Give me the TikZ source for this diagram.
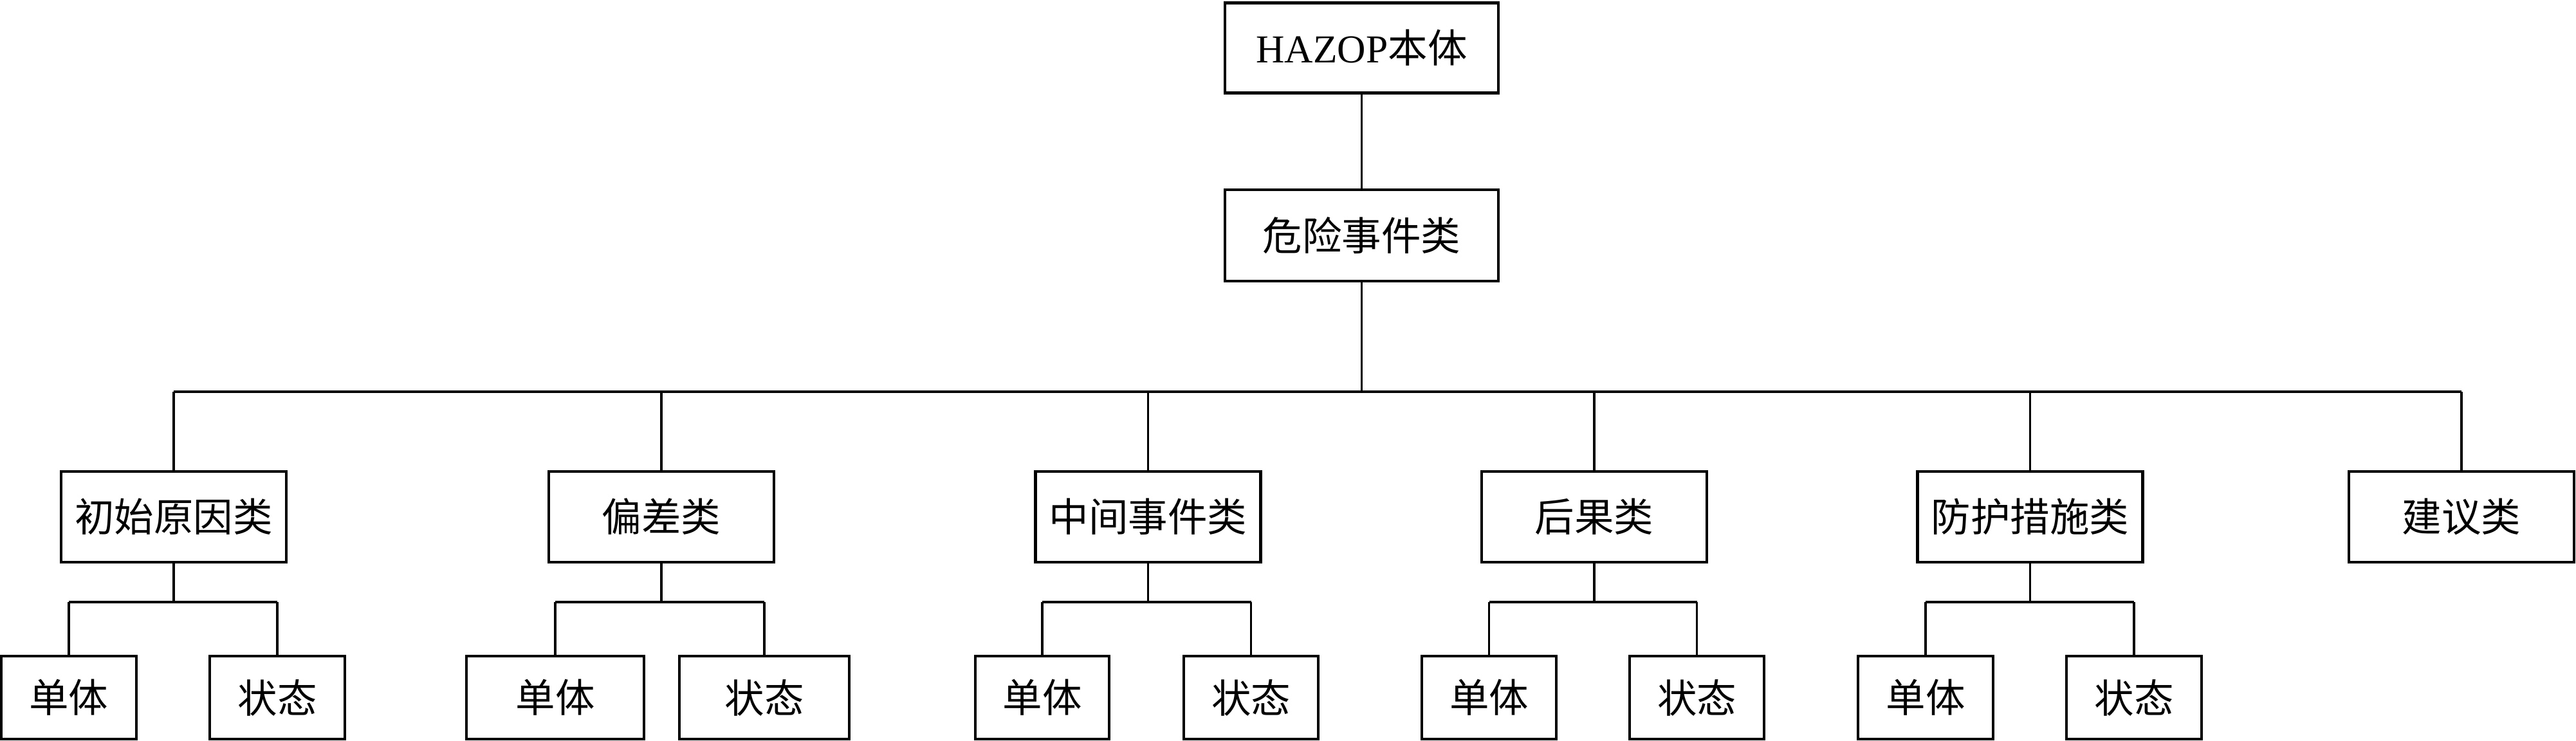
\documentclass[tikz,border=0pt]{standalone}
\usepackage{fontspec}
\setmainfont{Liberation Serif}
\newfontfamily\cjk{Noto Sans CJK SC}
\begin{document}
\begin{tikzpicture}[
  box/.style={draw=black, line width=1.2pt, fill=white, inner sep=0pt, align=center,
              font=\fontsize{17.5}{21}\selectfont\cjk},
  top/.style={box, minimum width=4.25cm, minimum height=1.40cm},
  cls/.style={box, minimum width=3.50cm, minimum height=1.41cm},
  leaf/.style={box, minimum height=1.29cm},
  conn/.style={draw=black, line width=1.0pt},
  hbus/.style={draw=black, line width=1.3pt}
]
\useasboundingbox (0,0) rectangle (40.04,-11.52);

% top two levels
\node[top] (root) at (21.165,-0.745) {{\rmfamily HAZOP}本体};
\node[top, minimum height=1.42cm] (ev) at (21.165,-3.66) {危险事件类};

% class row
\node[cls] (c1) at (2.70,-8.035) {初始原因类};
\node[cls] (c2) at (10.28,-8.035) {偏差类};
\node[cls] (c3) at (17.845,-8.035) {中间事件类};
\node[cls] (c4) at (24.78,-8.035) {后果类};
\node[cls] (c5) at (31.555,-8.035) {防护措施类};
\node[cls] (c6) at (38.26,-8.035) {建议类};

% leaves
\node[leaf, minimum width=2.10cm] (u1) at (1.07,-10.845) {单体};
\node[leaf, minimum width=2.10cm] (s1) at (4.31,-10.845) {状态};
\node[leaf, minimum width=2.76cm] (u2) at (8.63,-10.845) {单体};
\node[leaf, minimum width=2.64cm] (s2) at (11.88,-10.845) {状态};
\node[leaf, minimum width=2.08cm] (u3) at (16.20,-10.845) {单体};
\node[leaf, minimum width=2.09cm] (s3) at (19.445,-10.845) {状态};
\node[leaf, minimum width=2.09cm] (u4) at (23.145,-10.845) {单体};
\node[leaf, minimum width=2.09cm] (s4) at (26.375,-10.845) {状态};
\node[leaf, minimum width=2.10cm] (u5) at (29.93,-10.845) {单体};
\node[leaf, minimum width=2.10cm] (s5) at (33.17,-10.845) {状态};

% connectors
\coordinate (bus) at (0,-6.09);
\coordinate (sb) at (0,-9.36);
\draw[conn] (root) -- (ev);
\draw[conn] (ev.south) -- (ev.south |- bus);
\draw[hbus] (c1.north |- bus) -- (c6.north |- bus);
\foreach \c in {c1,c2,c3,c4,c5,c6} {
  \draw[conn] (\c.north) -- (\c.north |- bus);
}
\foreach \c/\u/\s in {c1/u1/s1, c2/u2/s2, c3/u3/s3, c4/u4/s4, c5/u5/s5} {
  \draw[conn] (\c.south) -- (\c.south |- sb);
  \draw[conn] (\u.north) -- (\u.north |- sb);
  \draw[conn] (\s.north) -- (\s.north |- sb);
  \draw[hbus] (\u.north |- sb) -- (\s.north |- sb);
}
\end{tikzpicture}
\end{document}
